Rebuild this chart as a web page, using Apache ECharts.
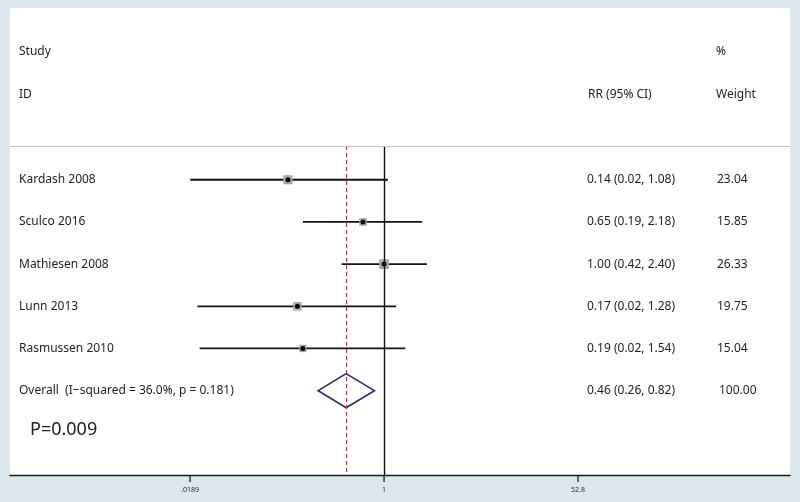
<!DOCTYPE html>
<html>
<head>
<meta charset="utf-8">
<script src="https://cdn.jsdelivr.net/npm/echarts@6/dist/echarts.min.js"></script>
<style>
  html, body { margin: 0; padding: 0; background: #dde8ee; }
  #chart { width: 800px; height: 502px; }
</style>
</head>
<body>
<div id="chart"></div>
<script>
// study rows
const studies = ['Kardash 2008', 'Sculco 2016', 'Mathiesen 2008', 'Lunn 2013', 'Rasmussen 2010']
const rr = [0.14, 0.65, 1.00, 0.17, 0.19]
const lower = [0.019, 0.19, 0.42, 0.022, 0.023]
const upper = [1.08, 2.18, 2.40, 1.28, 1.54]
const weights = [23.04, 15.85, 26.33, 19.75, 15.04]

// pooled estimate
const overallRR = 0.46
const overallLower = 0.26
const overallUpper = 0.82
const overallWeight = 100.00
const iSquared = 36.0
const pHetero = 0.181
const pOverall = '0.009'

// x axis ticks
const tickValues = [0.0189, 1, 52.8]
const tickLabels = ['.0189', '1', '52.8']

const FONT = '"Noto Sans", "Open Sans", sans-serif'
const INK = '#1e1e1e'

function fmt(v) {
  return v.toFixed(2)
}

function textEl(text, x, y, size, align) {
  return {
    type: 'text',
    x: x,
    y: y,
    style: {
      text: text,
      fill: INK,
      fontSize: size || 12,
      fontFamily: FONT,
      align: align || 'left',
      verticalAlign: 'middle'
    }
  }
}

const studyRows = studies.map((s, i) => [lower[i], upper[i], rr[i], i + 1, weights[i]])
const overallRow = studies.length + 1

const chart = echarts.init(document.getElementById('chart'))
chart.setOption({
  backgroundColor: '#dde8ee',
  animation: false,
  grid: {
    left: 10,
    right: 10,
    top: 146,
    bottom: 27
  },
  xAxis: {
    type: 'log',
    min: 0.000476,
    max: 4028,
    axisLine: { show: true, lineStyle: { color: '#1a1a1a', width: 1.3 } },
    axisTick: { show: false },
    axisLabel: { show: false },
    splitLine: { show: false },
    minorTick: { show: false }
  },
  yAxis: {
    type: 'value',
    inverse: true,
    min: 0.2,
    max: 8,
    show: false
  },
  graphic: [
    { type: 'rect', left: 10, top: 8, z: -10, shape: { width: 780, height: 467 }, style: { fill: '#fff' } },
    { type: 'group', children: [
      textEl('Study', 19, 52),
      textEl('ID', 19, 95),
      textEl('RR (95% CI)', 588, 95),
      textEl('%', 716, 52),
      textEl('Weight', 716, 95),
      textEl('P=' + pOverall, 30, 430, 18)
    ] }
  ],
  series: [
    {
      name: 'studies',
      type: 'custom',
      clip: false,
      data: studyRows,
      encode: { x: [0, 1, 2], y: 3 },
      renderItem(params, api) {
        const i = params.dataIndex
        const y = api.value(3)
        const lo = api.coord([api.value(0), y])
        const hi = api.coord([api.value(1), y])
        const pt = api.coord([api.value(2), y])
        const box = Math.sqrt(api.value(4)) * 1.9
        return {
          type: 'group',
          children: [
            { type: 'line', shape: { x1: lo[0], y1: lo[1], x2: hi[0], y2: hi[1] }, style: { stroke: '#111', lineWidth: 1.8 } },
            { type: 'rect', shape: { x: pt[0] - box / 2, y: pt[1] - box / 2, width: box, height: box }, style: { fill: '#a8a8a8' } },
            { type: 'circle', shape: { cx: pt[0], cy: pt[1], r: 2.5 }, style: { fill: '#000' } },
            textEl(studies[i], 19, pt[1]),
            textEl(fmt(rr[i]) + ' (' + fmt(lower[i]) + ', ' + fmt(upper[i]) + ')', 587, pt[1]),
            textEl(fmt(weights[i]), 717, pt[1])
          ]
        }
      }
    },
    {
      name: 'overall',
      type: 'custom',
      clip: false,
      data: [[overallLower, overallUpper, overallRR, overallRow]],
      encode: { x: [0, 1, 2], y: 3 },
      renderItem(params, api) {
        const y = api.value(3)
        const lo = api.coord([api.value(0), y])
        const hi = api.coord([api.value(1), y])
        const pt = api.coord([api.value(2), y])
        return {
          type: 'group',
          children: [
            {
              type: 'polygon',
              shape: { points: [lo, [pt[0], pt[1] - 17], hi, [pt[0], pt[1] + 17]] },
              style: { fill: 'none', stroke: '#2b3066', lineWidth: 1.7 }
            },
            textEl('Overall  (I\u2212squared = ' + iSquared.toFixed(1) + '%, p = ' + pHetero.toFixed(3) + ')', 19, pt[1]),
            textEl(fmt(overallRR) + ' (' + fmt(overallLower) + ', ' + fmt(overallUpper) + ')', 587, pt[1]),
            textEl(fmt(overallWeight), 719, pt[1])
          ]
        }
      },
      markLine: {
        silent: true,
        symbol: ['none', 'none'],
        label: { show: false },
        data: [
          { xAxis: 1, lineStyle: { color: '#111', type: 'solid', width: 1.4 } },
          { xAxis: overallRR, lineStyle: { color: '#b3343d', type: [4, 3], width: 1.1 } },
          { yAxis: 0.2, lineStyle: { color: '#c2c2c2', type: 'solid', width: 1.2 } }
        ]
      }
    },
    {
      name: 'ticks',
      type: 'custom',
      clip: false,
      data: tickValues.map(v => [v, 8]),
      encode: { x: 0, y: 1 },
      renderItem(params, api) {
        const p = api.coord([api.value(0), api.value(1)])
        return {
          type: 'group',
          children: [
            { type: 'line', shape: { x1: p[0], y1: p[1], x2: p[0], y2: p[1] + 7 }, style: { stroke: '#1a1a1a', lineWidth: 1.3 } },
            textEl(tickLabels[params.dataIndex], p[0], p[1] + 15, 7, 'center')
          ]
        }
      }
    }
  ]
})
</script>
</body>
</html>
